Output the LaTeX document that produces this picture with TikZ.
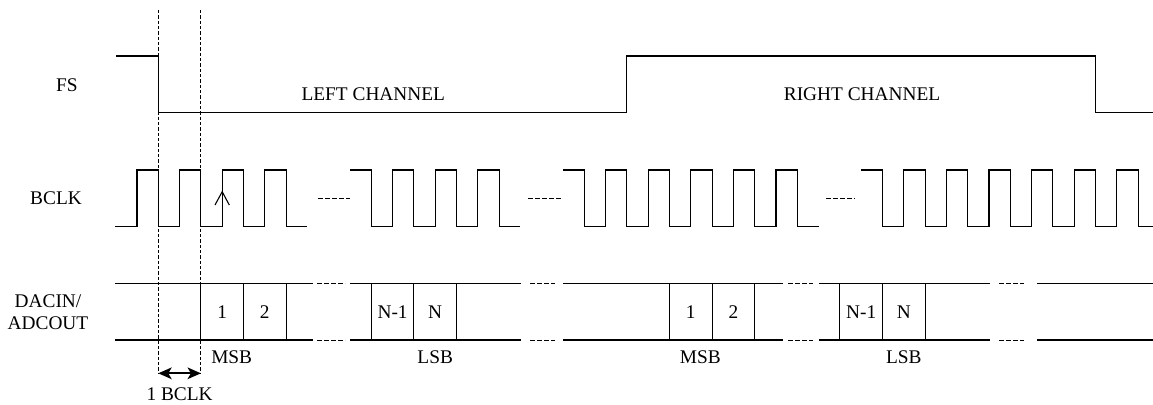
\documentclass[tikz,border=0pt]{standalone}
\usepackage{fontspec}
\setmainfont{Liberation Serif}
\usetikzlibrary{arrows.meta,positioning}

% one burst of clock pulses: start of path, pulses, last low part
\newcommand{\clkrun}[3]{%
  \draw[wave] #1 \foreach \pulse in {2,...,#2}{ -- ++(21.3,0) -- ++(0,56.7) -- ++(21.3,0) -- ++(0,-56.7)}
    -- ++(21.3,0) -- ++(0,56.7) -- ++(#3,0);}

\begin{document}
\begin{tikzpicture}[x=0.6pt,y=-0.6pt,
    wave/.style={draw=black,line width=0.65pt,line join=miter},
    guide/.style={draw=black,line width=0.55pt,dash pattern=on 2pt off 1.2pt},
    gap dash/.style={draw=black,line width=0.5pt,dash pattern=on 2.7pt off 1.5pt},
    span arrow/.style={{Stealth[length=8pt,width=7pt,inset=2pt]}-{Stealth[length=8pt,width=7pt,inset=2pt]},line width=1pt},
    bit box/.style={draw=black,line width=0.65pt,minimum width=25.56pt,minimum height=34pt,inner sep=0pt,outer sep=0pt},
    tag node/.style={inner sep=0pt,font=\fontsize{11.6}{13.2}\selectfont}]
  \useasboundingbox (0,0) rectangle (1153,404);

  % signal names
  \node[tag node,anchor=base] (fsLbl) at (67,91.7) {FS};
  \node[tag node,anchor=base] (bclkLbl) at (56,204) {BCLK};
  \node[tag node,align=center] (busLbl) at (48,312) {DACIN/\\ADCOUT};

  % FS
  \draw[wave] (116,56) -| (158.3,112.7) -| (626.9,56) -| (1095.5,112.7) -- (1153,112.7);
  \node[tag node,anchor=base] (leftCh) at (373.3,100) {LEFT CHANNEL};
  \node[tag node,anchor=base] (rightCh) at (862,100) {RIGHT CHANNEL};

  % BCLK
  \clkrun{(115,226.7) -| (137,170)}{4}{21.3}
  \clkrun{(350,170)}{4}{21.3}
  \clkrun{(563,170)}{6}{21.3}
  \clkrun{(861.2,170)}{7}{15.2}
  \foreach \a/\b in {318/350, 528/561, 826/855}
    \draw[gap dash] (\a,198.3) -- (\b,198.3);
  \draw[wave] (215,205) -- (222.2,191.7) -- (229.3,205);

  % DACIN / ADCOUT
  \foreach \a/\b in {115/313, 350/521, 563/783, 819/990, 1037/1153}
    \draw[wave] (\a,283.3) -- (\b,283.3) (\a,340) -- (\b,340);
  \foreach \a/\b in {317/345, 530/555, 788/813, 999/1024}
    \draw[gap dash] (\a,283.3) -- (\b,283.3) (\a,340) -- (\b,340);
  \foreach \name/\x/\txt in {b1L/222.2/1, b2L/264.8/2, bN1L/392.6/N-1, bNL/435.2/N,
                             b1R/690.8/1, b2R/733.4/2, bN1R/861.2/N-1, bNR/903.8/N}
    \node[bit box,tag node] (\name) at (\x,311.7) {\txt};
  \node[tag node,anchor=base] (msbL) at ([xshift=5.7pt,yshift=-13.8pt]b1L.south) {MSB};
  \node[tag node,anchor=base] (lsbL) at ([yshift=-13.8pt]bNL.south) {LSB};
  \node[tag node,anchor=base] (msbR) at ([xshift=5.7pt,yshift=-13.8pt]b1R.south) {MSB};
  \node[tag node,anchor=base] (lsbR) at ([yshift=-13.8pt]bNR.south) {LSB};

  % one bit clock
  \coordinate (edgeA) at (158.3,373.3);
  \coordinate (edgeB) at (200.9,373.3);
  \draw[guide] (158.3,10) -- (edgeA);
  \draw[guide] (200.9,10) -- (edgeB);
  \draw[span arrow] (edgeA) -- (edgeB);
  \node[tag node,anchor=base] (oneBclk) at (179.6,400) {1 BCLK};
\end{tikzpicture}
\end{document}
